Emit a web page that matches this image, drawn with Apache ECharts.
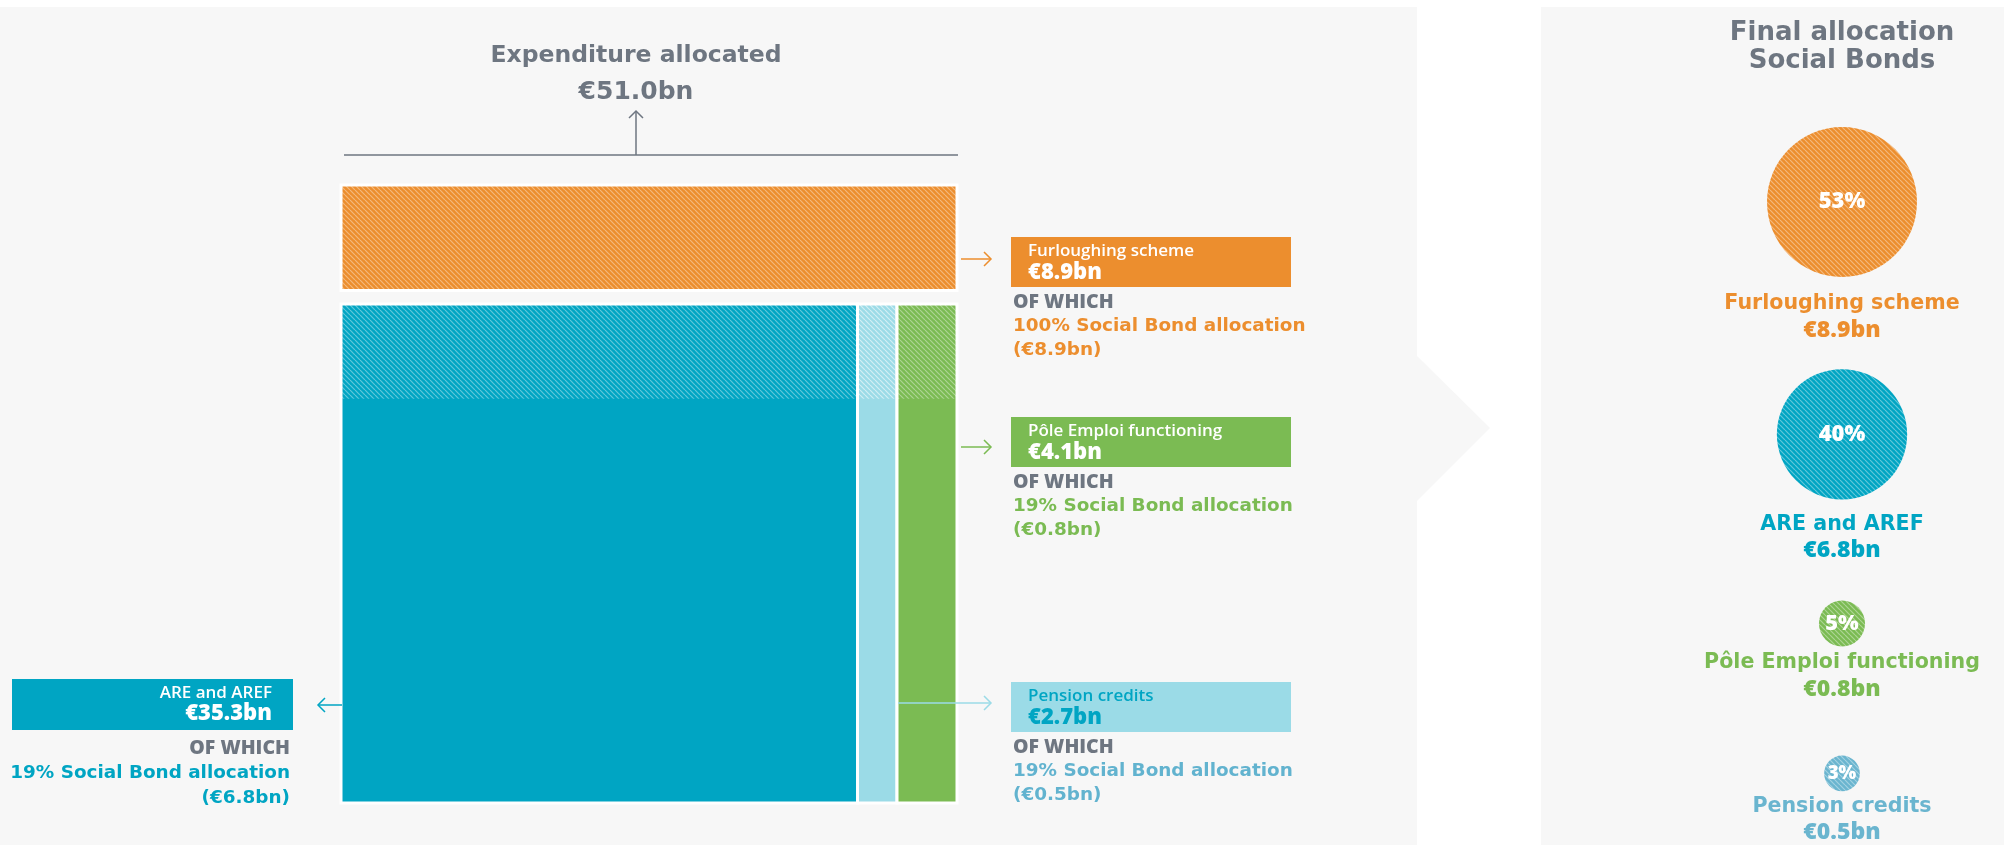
<!DOCTYPE html>
<html>
<head>
<meta charset="utf-8">
<script src="https://cdn.jsdelivr.net/npm/echarts@6/dist/echarts.min.js"></script>
<style>
html,body{margin:0;padding:0;background:#fff;}
#c{width:2004px;height:845px;}
</style>
</head>
<body>
<div id="c"></div>
<script>
// ---------- DATA ----------
const categories = ['ARE and AREF', 'Pension credits', 'Pôle Emploi functioning', 'Furloughing scheme'];
const expenditureBn = [35.3, 2.7, 4.1, 8.9];
const socialPct = [19, 19, 19, 100];
const socialBn = [6.8, 0.5, 0.8, 8.9];
const totalBn = 51.0;
const finalCategories = ['Furloughing scheme', 'ARE and AREF', 'Pôle Emploi functioning', 'Pension credits'];
const finalShare = [53, 40, 5, 3];
const finalBn = [8.9, 6.8, 0.8, 0.5];

// ---------- STYLE ----------
const GRAY = '#6E7681';
const BG = '#F7F7F7';
const FONT = '"Open Sans", "Noto Sans", sans-serif';
const WIDE = '"DejaVu Sans", "Open Sans", sans-serif';
const colors = {
  'ARE and AREF': '#00A5C3',
  'Pension credits': '#9BDBE7',
  'Pôle Emploi functioning': '#7BBB53',
  'Furloughing scheme': '#EC8E2E'
};
const textColors = {
  'ARE and AREF': '#00A5C3',
  'Pension credits': '#62B3CF',
  'Pôle Emploi functioning': '#7BBB53',
  'Furloughing scheme': '#EC8E2E'
};
const bubbleColors = {
  'ARE and AREF': '#00A5C3',
  'Pension credits': '#6AB5CF',
  'Pôle Emploi functioning': '#7BBB53',
  'Furloughing scheme': '#EC8E2E'
};
function hatch(base, stripe) {
  const s = 5;
  const c = document.createElement('canvas');
  c.width = s; c.height = s;
  const g = c.getContext('2d');
  g.fillStyle = base; g.fillRect(0, 0, s, s);
  g.strokeStyle = stripe; g.lineWidth = 1.2;
  for (const o of [-s, 0, s]) { g.beginPath(); g.moveTo(o, 0); g.lineTo(o + s, s); g.stroke(); }
  return { image: c, repeat: 'repeat' };
}
const hatchFor = {};
Object.keys(colors).forEach(k => {
  hatchFor[k] = hatch(colors[k], k === 'Pension credits' ? 'rgba(255,255,255,0.55)' : 'rgba(255,255,255,0.38)');
});
const bubbleHatch = {};
Object.keys(bubbleColors).forEach(k => { bubbleHatch[k] = hatch(bubbleColors[k], 'rgba(255,255,255,0.38)'); });

// ---------- LAYOUT FROM DATA ----------
const mainCount = 3; // first three categories form the lower block, last one the upper bar
const mainSum = expenditureBn.slice(0, mainCount).reduce((a, b) => a + b, 0);
const rowGap = 0.027;
const topH = expenditureBn[mainCount] / mainSum;
const yMax = 1 + rowGap + topH;
const blockData = [];
let acc = 0;
for (let i = 0; i < mainCount; i++) {
  blockData.push({ name: categories[i], value: [acc, acc + expenditureBn[i], 0, 1, socialPct[i] / 100, i] });
  acc += expenditureBn[i];
}
blockData.push({ name: categories[mainCount], value: [0, mainSum, yMax - topH, yMax, socialPct[mainCount] / 100, mainCount] });

// bubbles: radius by sqrt of share, stacked one below the other
const rScale = 10.3;
const radii = finalShare.map(v => rScale * Math.sqrt(v));
const bubbleY = [];
let cy = 202;
radii.forEach((r, i) => { if (i > 0) cy += 0.83 * (radii[i - 1] + r) + 116; bubbleY.push(cy); });
const bubbleData = finalCategories.map((n, i) => ({ name: n, value: [0.5, bubbleY[i], finalShare[i], finalBn[i]] }));

// ---------- GRAPHICS (annotations) ----------
const g = [];
g.push({ type: 'rect', z: -10, shape: { x: 0, y: 7, width: 1417, height: 838 }, style: { fill: BG } });
g.push({ type: 'polygon', z: -10, shape: { points: [[1416, 355], [1490, 428], [1416, 502]] }, style: { fill: BG } });
g.push({ type: 'rect', z: -10, shape: { x: 1541, y: 7, width: 463, height: 838 }, style: { fill: BG } });

function txt(x, y, text, font, color, align) {
  g.push({ type: 'text', z: 100, x: x, y: y, style: { text: text, font: font, fill: color, align: align || 'left', verticalAlign: 'middle' } });
}
function line(pts, color) {
  g.push({ type: 'polyline', z: 100, shape: { points: pts }, style: { stroke: color, lineWidth: 1.5, fill: null } });
}
// title
txt(636, 56, 'Expenditure allocated', 'bold 23.5px ' + WIDE, GRAY, 'center');
txt(636, 92, '€' + totalBn.toFixed(1) + 'bn', 'bold 25px ' + WIDE, GRAY, 'center');
line([[636, 155], [636, 111]], GRAY);
line([[629, 118], [636, 111], [643, 118]], GRAY);
line([[344, 155], [958, 155]], GRAY);

function fmt(v) { return '€' + v.toFixed(1) + 'bn'; }
const F_NAME = '600 17px ' + FONT;
const F_VAL = '800 22px ' + FONT;
const F_OF = '800 19.5px ' + FONT;
const F_SB = 'bold 18.4px ' + WIDE;
function rightLabel(idx, boxY, arrowY, arrowX0) {
  const n = categories[idx];
  const c = colors[n];
  const isLight = n === 'Pension credits';
  line([[arrowX0, arrowY], [991, arrowY]], c);
  line([[984, arrowY - 7], [991, arrowY], [984, arrowY + 7]], c);
  g.push({ type: 'rect', z: 90, shape: { x: 1011, y: boxY, width: 280, height: 50 }, style: { fill: c } });
  const tc = isLight ? '#00A5C3' : '#fff';
  txt(1028, boxY + 14, n, F_NAME, tc);
  txt(1028, boxY + 36, fmt(expenditureBn[idx]), F_VAL, tc);
  txt(1013, boxY + 65, 'OF WHICH', F_OF, GRAY);
  txt(1013, boxY + 89, socialPct[idx] + '% Social Bond allocation', F_SB, textColors[n]);
  txt(1013, boxY + 113, '(' + fmt(socialBn[idx]) + ')', F_SB, textColors[n]);
}
rightLabel(3, 237, 259, 961);
rightLabel(2, 417, 447, 961);
rightLabel(1, 682, 703, 898);
// ARE label (left)
(function () {
  const n = categories[0], c = colors[n];
  line([[342, 705], [318, 705]], c);
  line([[325, 698], [318, 705], [325, 712]], c);
  g.push({ type: 'rect', z: 90, shape: { x: 12, y: 679, width: 281, height: 51 }, style: { fill: c } });
  txt(272, 693, n, F_NAME, '#fff', 'right');
  txt(272, 714, fmt(expenditureBn[0]), F_VAL, '#fff', 'right');
  txt(290, 748, 'OF WHICH', F_OF, GRAY, 'right');
  txt(290, 773, socialPct[0] + '% Social Bond allocation', F_SB, textColors[n], 'right');
  txt(290, 798, '(' + fmt(socialBn[0]) + ')', F_SB, textColors[n], 'right');
})();
// right panel title
txt(1842, 33, 'Final allocation', 'bold 26px ' + WIDE, GRAY, 'center');
txt(1842, 61, 'Social Bonds', 'bold 26px ' + WIDE, GRAY, 'center');

// ---------- CHART ----------
const chart = echarts.init(document.getElementById('c'), null, { renderer: 'canvas' });
chart.setOption({
  backgroundColor: '#fff',
  animation: false,
  grid: [
    { left: 341, top: 185, width: 616, height: 618 },
    { left: 1680, right: 0, top: 0, height: 845 }
  ],
  xAxis: [
    { gridIndex: 0, type: 'value', min: 0, max: mainSum, show: false },
    { gridIndex: 1, type: 'value', min: 0, max: 1, show: false }
  ],
  yAxis: [
    { gridIndex: 0, type: 'value', min: 0, max: yMax, show: false },
    { gridIndex: 1, type: 'value', min: 0, max: 845, inverse: true, show: false }
  ],
  graphic: g,
  series: [
    {
      type: 'custom',
      xAxisIndex: 0, yAxisIndex: 0,
      z: 5,
      data: blockData,
      renderItem: function (params, api) {
        const x0 = api.value(0), x1 = api.value(1), y0 = api.value(2), y1 = api.value(3), hf = api.value(4);
        const name = categories[api.value(5)];
        const p0 = api.coord([x0, y1]);
        const p1 = api.coord([x1, y0]);
        const w = p1[0] - p0[0], h = p1[1] - p0[1];
        return {
          type: 'group',
          children: [
            { type: 'rect', shape: { x: p0[0], y: p0[1], width: w, height: h }, style: { fill: colors[name] } },
            { type: 'rect', shape: { x: p0[0], y: p0[1], width: w, height: h * hf }, style: { fill: hatchFor[name] } },
            { type: 'rect', shape: { x: p0[0], y: p0[1], width: w, height: h }, style: { fill: null, stroke: '#fff', lineWidth: 3 } }
          ]
        };
      }
    },
    {
      type: 'custom',
      xAxisIndex: 1, yAxisIndex: 1,
      data: bubbleData,
      renderItem: function (params, api) {
        const p = api.coord([api.value(0), api.value(1)]);
        const share = api.value(2);
        const r = rScale * Math.sqrt(share);
        const n = finalCategories[params.dataIndex];
        const off = 12 + r * 0.2;
        const fs = Math.min(22, 8 + r * 0.6);
        const tc = bubbleColors[n];
        return {
          type: 'group',
          children: [
            { type: 'circle', shape: { cx: p[0], cy: p[1], r: r }, style: { fill: bubbleHatch[n] } },
            { type: 'text', x: p[0], y: p[1], style: { text: share + '%', font: '800 ' + fs + 'px ' + FONT, fill: '#fff', align: 'center', verticalAlign: 'middle' } },
            { type: 'text', x: p[0], y: p[1] + r + off, style: { text: n, font: 'bold 20.6px ' + WIDE, fill: tc, align: 'center', verticalAlign: 'middle' } },
            { type: 'text', x: p[0], y: p[1] + r + off + 26, style: { text: fmt(api.value(3)), font: '800 23px ' + FONT, fill: tc, align: 'center', verticalAlign: 'middle' } }
          ]
        };
      }
    }
  ]
});
</script>
</body>
</html>
